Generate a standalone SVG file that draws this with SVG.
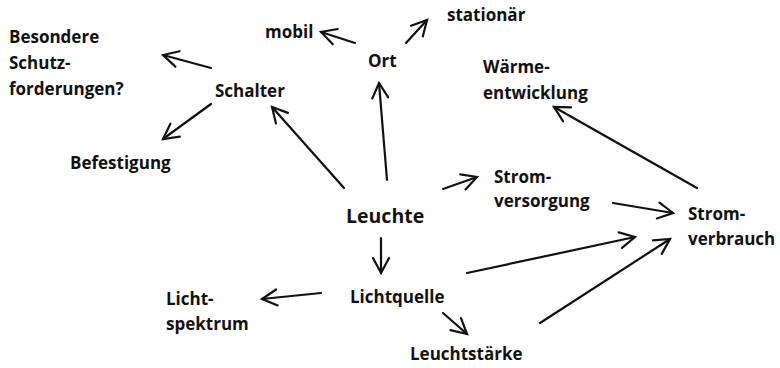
<svg xmlns="http://www.w3.org/2000/svg" width="780" height="368" viewBox="0 0 780 368">
<defs>
<marker id="ah" markerUnits="userSpaceOnUse" markerWidth="22" markerHeight="22" viewBox="-2 -11 22 22" refX="15" refY="0" orient="auto">
<path d="M0,-8 L15,0 L0,8" fill="none" stroke="#111" stroke-width="2.2" stroke-linecap="round" stroke-linejoin="miter"/>
</marker>
</defs>
<style>
text{font-family:"Open Sans",Lato,"Liberation Sans",sans-serif;font-weight:bold;font-size:17px;fill:#111}
.big{font-size:19.5px}
.c line{stroke:#111;stroke-width:2.2;stroke-linecap:round;marker-end:url(#ah)}
</style>
<rect width="780" height="368" fill="#fff"/>
<g class="c" id="connectors">
<line x1="211" y1="68" x2="163" y2="55"/>
<line x1="211" y1="104" x2="163" y2="139"/>
<line x1="344" y1="188" x2="272" y2="107"/>
<line x1="387" y1="180" x2="379" y2="83"/>
<line x1="355" y1="43" x2="321" y2="32"/>
<line x1="406" y1="43" x2="427" y2="20"/>
<line x1="697" y1="188" x2="554" y2="107"/>
<line x1="443" y1="189" x2="477" y2="177"/>
<line x1="613" y1="203" x2="673" y2="213"/>
<line x1="467" y1="273" x2="635" y2="237"/>
<line x1="540" y1="323" x2="670" y2="239"/>
<line x1="381" y1="238" x2="381" y2="273"/>
<line x1="321" y1="293" x2="262" y2="299"/>
<line x1="443" y1="313" x2="467" y2="334"/>
</g>
<g id="leuchte"><text class="big" x="346" y="223">Leuchte</text></g>
<g id="schalter"><text x="215" y="97">Schalter</text></g>
<g id="besondere"><text x="9" y="43">Besondere</text><text x="9" y="69">Schutz-</text><text x="9" y="95">forderungen?</text></g>
<g id="befestigung"><text x="70" y="169">Befestigung</text></g>
<g id="ort"><text x="368" y="67">Ort</text></g>
<g id="mobil"><text x="265" y="38">mobil</text></g>
<g id="stationaer"><text x="447" y="21">stationär</text></g>
<g id="waerme"><text x="483" y="73">Wärme-</text><text x="483" y="99">entwicklung</text></g>
<g id="stromversorgung"><text x="494" y="183">Strom-</text><text x="494" y="207">versorgung</text></g>
<g id="stromverbrauch"><text x="688" y="220">Strom-</text><text x="688" y="245">verbrauch</text></g>
<g id="lichtquelle"><text x="350" y="303">Lichtquelle</text></g>
<g id="lichtspektrum"><text x="166" y="305">Licht-</text><text x="166" y="330">spektrum</text></g>
<g id="leuchtstaerke"><text x="410" y="360">Leuchtstärke</text></g>
</svg>
